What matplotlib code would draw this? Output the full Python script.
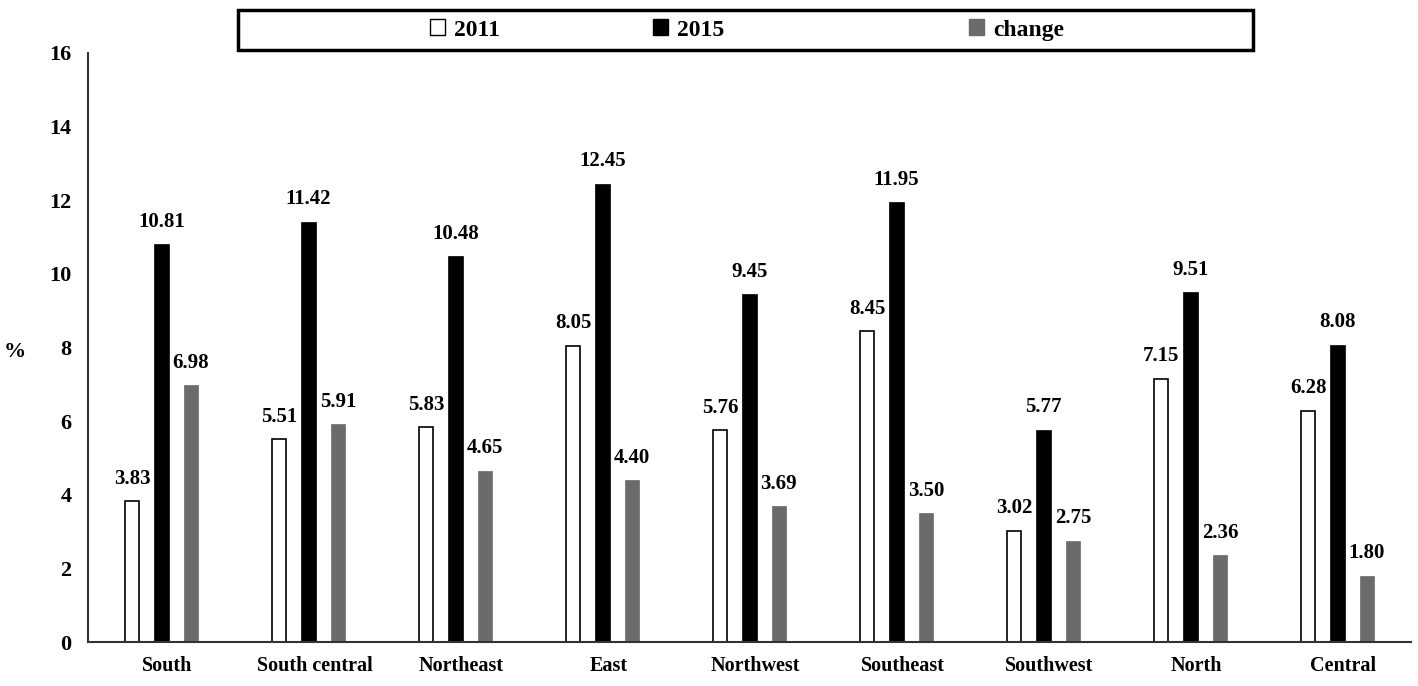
import matplotlib
matplotlib.use("Agg")
import matplotlib.pyplot as plt
from matplotlib.patches import Rectangle, Patch
import numpy as np

categories = ["South", "South central", "Northeast", "East", "Northwest",
              "Southeast", "Southwest", "North", "Central"]
v2011 = [3.83, 5.51, 5.83, 8.05, 5.76, 8.45, 3.02, 7.15, 6.28]
v2015 = [10.81, 11.42, 10.48, 12.45, 9.45, 11.95, 5.77, 9.51, 8.08]
vchange = [6.98, 5.91, 4.65, 4.40, 3.69, 3.50, 2.75, 2.36, 1.80]
series_names = ["2011", "2015", "change"]
yticks = [0, 2, 4, 6, 8, 10, 12, 14, 16]

plt.rcParams['font.family'] = ['Liberation Serif', 'DejaVu Serif']
plt.rcParams['font.weight'] = 'bold'

W, H = 1418, 686
fig = plt.figure(figsize=(W / 100, H / 100), dpi=100)
ax = fig.add_axes([88 / W, (H - 642) / H, (1411 - 88) / W, (642 - 53) / H])

x = np.arange(len(categories))
bw = 0.1
off = 0.2
shift = 0.041  # bars sit slightly left of the category label centres
specs = [
    (v2011, -off, dict(facecolor="white", edgecolor="black", linewidth=1.2)),
    (v2015, 0.0, dict(facecolor="black", edgecolor="black", linewidth=0.5)),
    (vchange, off, dict(facecolor="#6b6b6b", edgecolor="#6b6b6b", linewidth=0.5)),
]
for vals, dx, st in specs:
    bars = ax.bar(x + dx - shift, vals, width=bw, **st)
    for b, v in zip(bars, vals):
        ax.annotate(f"{v:.2f}", (b.get_x() + b.get_width() / 2, v),
                    xytext=(0, 12.5), textcoords="offset points",
                    ha="center", va="baseline", fontsize=15, fontweight="bold")

ax.set_xlim(-0.5 - shift, len(categories) - 0.5 - shift)
ax.set_ylim(0, 16)
ax.set_yticks(yticks)
ax.set_yticklabels([str(t) for t in yticks], fontsize=16, fontweight="bold")
ax.set_xticks(x)
ax.set_xticklabels(categories, fontsize=14.5, fontweight="bold")
ax.tick_params(axis="both", length=0)
ax.tick_params(axis="y", pad=12)
ax.tick_params(axis="x", pad=10)
for s in ["top", "right"]:
    ax.spines[s].set_visible(False)
for s in ["left", "bottom"]:
    ax.spines[s].set_color("#333333")
    ax.spines[s].set_linewidth(1.5)

fig.text(15 / W, 1 - 352 / H, "%", fontsize=16, fontweight="bold",
         ha="center", va="center")

# legend box
fig.patches.append(Rectangle((238 / W, 1 - 50 / H), (1253 - 238) / W, 40 / H,
                             transform=fig.transFigure, fill=False,
                             edgecolor="black", linewidth=2.5))
handles = [
    Patch(facecolor="white", edgecolor="black", linewidth=1.0),
    Patch(facecolor="black", edgecolor="black"),
    Patch(facecolor="#6b6b6b", edgecolor="#6b6b6b"),
]
xs = [430, 653, 969]
for h, name, xp in zip(handles, series_names, xs):
    fig.legend(handles=[h], labels=[name], loc="center left",
               bbox_to_anchor=(xp / W, 1 - 30 / H), frameon=False,
               handlelength=0.65, handleheight=0.65, handletextpad=0.38,
               borderpad=0, borderaxespad=0,
               prop=dict(size=17, weight="bold"))

fig.savefig("out.png", dpi=100)
